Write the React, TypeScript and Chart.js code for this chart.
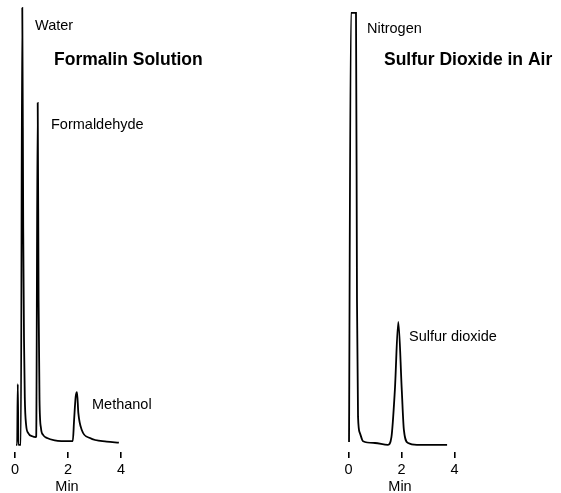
import React, { useEffect, useRef } from "react";
import { Chart, registerables } from "chart.js";

Chart.register(...registerables);

// ---- data ----
const tickValues = [0, 2, 4];
const axisTitle = "Min";

const formalinTitle = "Formalin Solution";
const formalinPeakNames = ["Water", "Formaldehyde", "Methanol"];
const formalinTime = [
  0.04, 0.08, 0.105, 0.13, 0.22, 0.275, 0.31, 0.34, 0.37, 0.42, 0.5, 0.65, 0.78,
  0.8, 0.857, 0.89, 0.925, 0.98, 1.06, 1.21, 1.5, 2.1,
  2.18, 2.23, 2.29, 2.34, 2.39, 2.52, 2.83, 3.46, 3.92,
];
const formalinSignal = [
  1.6, 1.6, 15.1, 1.6, 1.6, 98.7, 50, 25, 12, 6, 4.2, 3.5, 3.3,
  3.5, 77.6, 33.8, 11.6, 5.3, 3.8, 3.1, 2.6, 2.4,
  2.4, 7.1, 12.3, 13.3, 8.7, 4.9, 3.1, 2.3, 2.1,
];

const so2Title = "Sulfur Dioxide in Air";
const so2PeakNames = ["Nitrogen", "Sulfur dioxide"];
const so2Time = [
  0.02, 0.094, 0.283, 0.32, 0.36, 0.43, 0.55, 1.0, 1.49,
  1.62, 1.75, 1.88, 2.01, 2.09, 2.25, 2.58, 3.72,
];
const so2Signal = [
  2.2, 97.6, 97.6, 33.8, 7.8, 4.2, 2.4, 2.0, 1.6,
  3.3, 13.8, 28.9, 13.8, 4.9, 2.0, 1.6, 1.6,
];

// ---- layout / style ----
const FONT = '"Liberation Sans", Arial, Helvetica, sans-serif';
const W = 561;
const H = 493;

type TextItem = { text: string; x: number; y: number; bold?: boolean; center?: boolean };

function makeTextPlugin(items: TextItem[]) {
  return {
    id: "texts",
    afterDraw(chart: any) {
      const ctx = chart.ctx;
      ctx.save();
      ctx.fillStyle = "#000";
      ctx.textBaseline = "middle";
      for (const it of items) {
        ctx.font = it.bold ? `bold 17.5px ${FONT}` : `14.5px ${FONT}`;
        ctx.textAlign = it.center ? "center" : "left";
        ctx.fillText(it.text, it.x, it.y);
      }
      ctx.restore();
    },
  };
}

function Panel(props: {
  left: number;
  width: number;
  padLeft: number;
  padRight: number;
  time: number[];
  signal: number[];
  texts: TextItem[];
}) {
  const ref = useRef<HTMLCanvasElement>(null);
  useEffect(() => {
    const canvas = ref.current!;
    const data = props.time.map((t, i) => ({ x: t, y: props.signal[i] }));
    const chart = new Chart(canvas, {
      type: "line",
      data: {
        datasets: [
          {
            data,
            borderColor: "#000",
            borderWidth: 1.8,
            pointRadius: 0,
            fill: false,
            cubicInterpolationMode: "monotone",
            clip: false as any,
          },
        ],
      },
      options: {
        animation: false,
        responsive: false,
        maintainAspectRatio: false,
        layout: { padding: { left: props.padLeft, right: props.padRight, top: 2, bottom: 0 } },
        plugins: { legend: { display: false }, tooltip: { enabled: false } },
        events: [],
        scales: {
          x: {
            type: "linear",
            min: 0,
            max: 4,
            afterBuildTicks: (scale: any) => {
              scale.ticks = tickValues.map((v) => ({ value: v }));
            },
            afterFit: (scale: any) => {
              scale.height = 41;
            },
            ticks: {
              color: "#000",
              font: { family: FONT, size: 14.5 },
              padding: 3,
              maxRotation: 0,
              autoSkip: false,
            },
            grid: {
              display: true,
              drawOnChartArea: false,
              drawTicks: true,
              tickLength: 6,
              color: "#000",
              lineWidth: 1.6,
            },
            border: { display: false },
          },
          y: { type: "linear", min: 0, max: 100, display: false },
        },
      },
      plugins: [makeTextPlugin(props.texts)],
    } as any);
    return () => chart.destroy();
  }, []);
  return (
    <canvas
      ref={ref}
      width={props.width}
      height={H}
      style={{ position: "absolute", left: props.left, top: 0, width: props.width, height: H }}
    />
  );
}

export default function App() {
  const leftTexts: TextItem[] = [
    { text: formalinPeakNames[0], x: 35, y: 26 },
    { text: formalinTitle, x: 54, y: 60, bold: true },
    { text: formalinPeakNames[1], x: 51, y: 125 },
    { text: formalinPeakNames[2], x: 92, y: 405 },
    { text: axisTitle, x: 67, y: 487, center: true },
  ];
  const rightOffset = 280;
  const rightTexts: TextItem[] = [
    { text: so2PeakNames[0], x: 367 - rightOffset, y: 29 },
    { text: so2Title, x: 384 - rightOffset, y: 60, bold: true },
    { text: so2PeakNames[1], x: 409 - rightOffset, y: 337 },
    { text: axisTitle, x: 400 - rightOffset, y: 487, center: true },
  ];
  return (
    <div style={{ position: "absolute", left: 0, top: 0, width: W, height: H, background: "#fff" }}>
      <Panel left={0} width={280} padLeft={15} padRight={280 - 121} time={formalinTime} signal={formalinSignal} texts={leftTexts} />
      <Panel
        left={rightOffset}
        width={W - rightOffset}
        padLeft={348.5 - rightOffset}
        padRight={W - 454.5}
        time={so2Time}
        signal={so2Signal}
        texts={rightTexts}
      />
    </div>
  );
}
